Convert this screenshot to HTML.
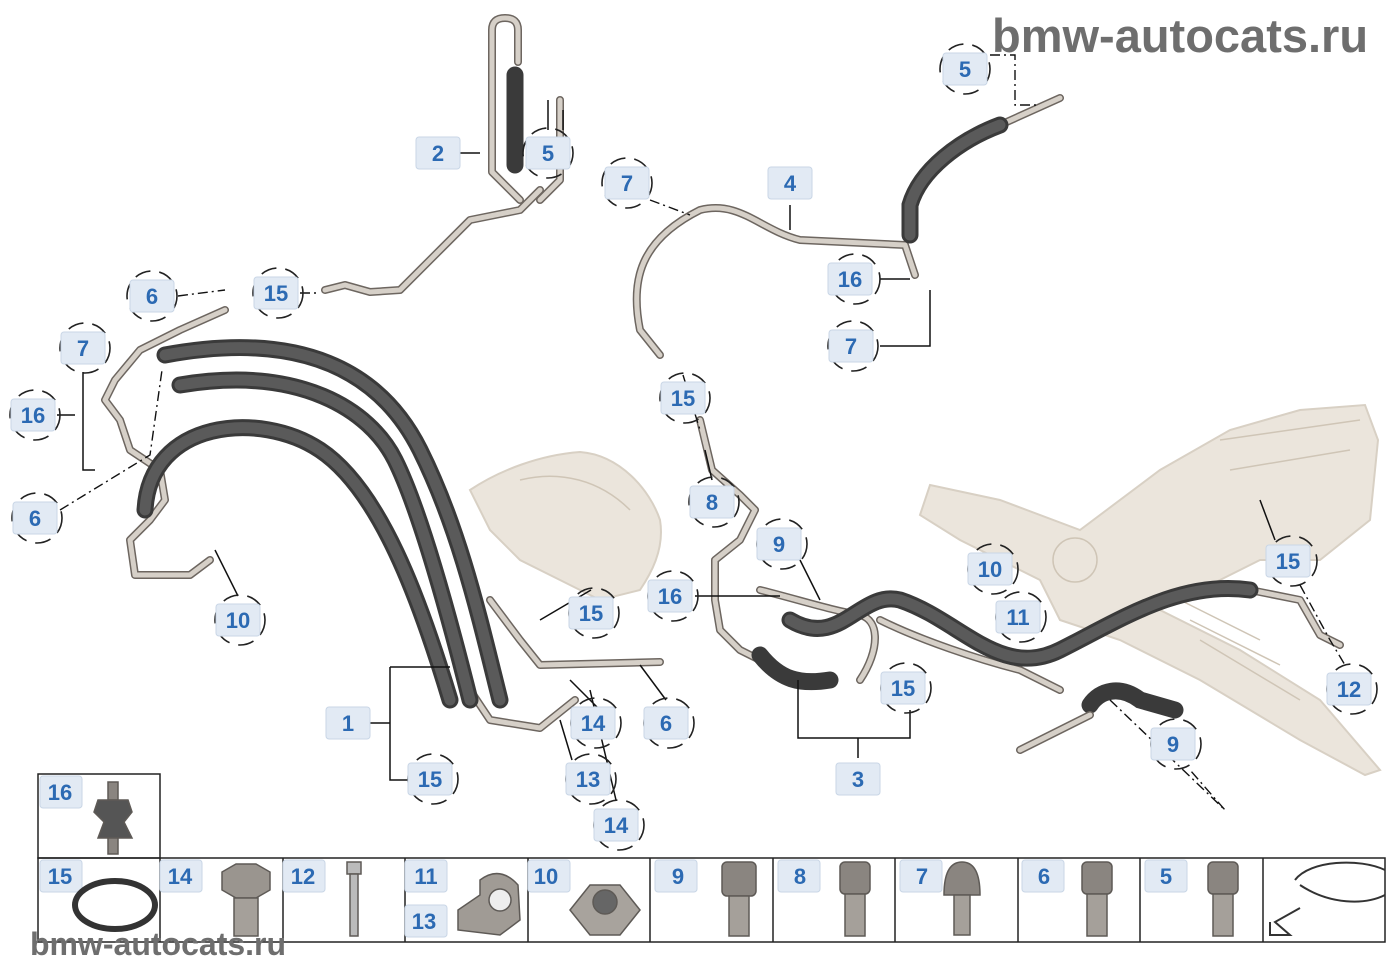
<!DOCTYPE html>
<html><head><meta charset="utf-8"><style>
html,body{margin:0;padding:0;background:#fff}
svg{display:block}
.lb rect{fill:#e2eaf4;stroke:#c9d6e6;stroke-width:1}
.lb text{font-family:"Liberation Sans",sans-serif;font-weight:bold;font-size:22px;fill:#2c6ab3;text-anchor:middle}
.ci{fill:none;stroke:#222;stroke-width:1.6;stroke-dasharray:16 9}
.hose{fill:none;stroke:#3a3a3a;stroke-width:17;stroke-linecap:round}
.hosei{fill:none;stroke:#5a5a5a;stroke-width:11;stroke-linecap:round}
.pipe{fill:none;stroke:#6d6660;stroke-width:8;stroke-linecap:round;stroke-linejoin:round}
.pipei{fill:none;stroke:#d6d0c8;stroke-width:5;stroke-linecap:round;stroke-linejoin:round}
.ld{fill:none;stroke:#111;stroke-width:1.5}
.dd{fill:none;stroke:#111;stroke-width:1.4;stroke-dasharray:10 4 2 4}
.cell{fill:none;stroke:#222;stroke-width:1.5}
.wm{font-family:"Liberation Sans",sans-serif;font-weight:bold;fill:#6e6e6e}
</style></head><body>
<svg width="1400" height="980" viewBox="0 0 1400 980" xmlns="http://www.w3.org/2000/svg">
<text class="wm" x="992" y="52" font-size="47">bmw-autocats.ru</text>

<g fill="#ebe5dc" stroke="#d8d0c4" stroke-width="2">
<path d="M470,490 C500,470 540,455 580,452 C620,455 650,490 660,520 C665,550 650,575 640,590 L600,600 L560,580 L520,560 L490,530 Z"/>
<path d="M930,485 L1000,500 L1080,530 L1160,470 L1230,430 L1300,410 L1365,405 L1378,440 L1370,520 L1320,560 L1260,560 L1200,590 L1160,610 L1240,650 L1320,700 L1380,770 L1365,775 L1300,740 L1200,680 L1120,640 L1060,620 L1040,580 L1000,560 L960,540 L920,515 Z"/>
</g>
<g fill="none" stroke="#cfc5b6" stroke-width="1.5">
<circle cx="1075" cy="560" r="22"/><path d="M1180,600 L1260,640 M1190,620 L1280,665 M1200,640 L1300,700"/>
<path d="M1220,440 L1360,420 M1230,470 L1350,450"/>
<path d="M520,480 C560,470 600,480 630,510"/>
</g>

<g>
<path class="pipe" d="M520,200 L492,172 L492,30 Q492,18 505,18 Q518,18 518,30 L518,62"/>
<path class="pipei" d="M520,200 L492,172 L492,30 Q492,18 505,18 Q518,18 518,30 L518,62"/>
<path class="pipe" d="M540,190 L520,210 L470,220 L440,250 L400,290 L370,292 L345,285 L325,290"/>
<path class="pipei" d="M540,190 L520,210 L470,220 L440,250 L400,290 L370,292 L345,285 L325,290"/>
<path class="pipe" d="M560,100 L560,180 L540,200"/>
<path class="pipei" d="M560,100 L560,180 L540,200"/>
<path class="pipe" d="M660,355 L640,330 C630,280 640,240 700,210 C740,200 760,230 800,240 L905,245 L915,275"/>
<path class="pipei" d="M660,355 L640,330 C630,280 640,240 700,210 C740,200 760,230 800,240 L905,245 L915,275"/>
<path class="pipe" d="M700,420 L712,470 L740,495 L755,510 L740,540 L715,560 L715,600 L720,630 L740,650 L760,660"/>
<path class="pipei" d="M700,420 L712,470 L740,495 L755,510 L740,540 L715,560 L715,600 L720,630 L740,650 L760,660"/>
<path class="pipe" d="M760,590 C800,600 830,610 860,615 C880,620 880,650 860,680 M880,620 C920,640 980,660 1020,670 L1060,690"/>
<path class="pipei" d="M760,590 C800,600 830,610 860,615 C880,620 880,650 860,680 M880,620 C920,640 980,660 1020,670 L1060,690"/>
<path class="pipe" d="M225,310 L180,330 L140,350 L115,380 L105,400 L120,420 L130,450 L160,470 L165,500 L150,520 L130,540 L135,575 L190,575 L210,560"/>
<path class="pipei" d="M225,310 L180,330 L140,350 L115,380 L105,400 L120,420 L130,450 L160,470 L165,500 L150,520 L130,540 L135,575 L190,575 L210,560"/>
<path class="pipe" d="M490,600 L520,640 L540,665 L660,662"/>
<path class="pipei" d="M490,600 L520,640 L540,665 L660,662"/>
<path class="pipe" d="M470,690 L490,720 L540,728 L575,700"/>
<path class="pipei" d="M470,690 L490,720 L540,728 L575,700"/>
<path class="pipe" d="M1250,590 L1300,600 L1320,635 L1340,645"/>
<path class="pipei" d="M1250,590 L1300,600 L1320,635 L1340,645"/>
<path class="pipe" d="M1000,125 L1060,98"/>
<path class="pipei" d="M1000,125 L1060,98"/>
</g>

<g>
<path class="hose" d="M165,355 C300,330 380,370 420,450 S480,620 500,700"/>
<path class="hosei" d="M165,355 C300,330 380,370 420,450 S480,620 500,700"/>
<path class="hose" d="M180,385 C300,365 370,410 395,460 S450,620 470,700"/>
<path class="hosei" d="M180,385 C300,365 370,410 395,460 S450,620 470,700"/>
<path class="hose" d="M145,510 C150,420 260,410 320,450 S420,600 450,700"/>
<path class="hosei" d="M145,510 C150,420 260,410 320,450 S420,600 450,700"/>
<path class="hose" d="M515,75 L515,165"/>
<path class="hose" d="M910,235 L910,205 C920,170 960,140 1000,125"/>
<path class="hosei" d="M910,235 L910,205 C920,170 960,140 1000,125"/>
<path class="hose" d="M790,620 C840,650 860,590 900,600 C960,620 1000,680 1060,650 C1120,620 1180,580 1250,590"/>
<path class="hosei" d="M790,620 C840,650 860,590 900,600 C960,620 1000,680 1060,650 C1120,620 1180,580 1250,590"/>
<path class="hose" d="M760,655 C780,680 800,685 830,680"/>
<path class="hose" d="M1090,705 C1100,690 1120,685 1140,700 L1175,710"/>
<path class="pipe" d="M1020,750 L1090,715"/>
<path class="pipei" d="M1020,750 L1090,715"/>
</g>

<g>
<path class="ld" d="M460,153 L480,153"/>
<path class="ld" d="M790,205 L790,230"/>
<path class="ld" d="M390,667 L450,667 M390,667 L390,780 L410,780 M370,723 L390,723"/>
<path class="ld" d="M798,680 L798,738 L910,738 L910,710 M858,738 L858,758"/>
<path class="ld" d="M548,130 L548,100 M563,130 L563,110"/>
<path class="ld" d="M880,279 L910,279 M880,346 L930,346 L930,290"/>
<path class="dd" d="M990,55 L1015,55 L1015,105 L1040,105"/>
<path class="dd" d="M650,200 L690,215"/>
<path class="dd" d="M178,296 L225,290 M300,293 L320,293"/>
<path class="ld" d="M83,372 L83,470 L95,470 M57,415 L75,415"/>
<path class="dd" d="M60,510 L150,455 L162,370"/>
<path class="ld" d="M238,596 L215,550"/>
<path class="dd" d="M683,375 L700,430"/>
<path class="ld" d="M712,480 L705,450"/>
<path class="ld" d="M695,596 L780,596 M800,560 L820,600"/>
<path class="ld" d="M591,590 L540,620 M600,710 L570,680 M572,760 L560,720 M616,800 L590,690"/>
<path class="ld" d="M666,700 L640,665"/>
<path class="ld" d="M1275,540 L1260,500"/>
<path class="dd" d="M1300,585 L1330,640 L1345,665"/>
<path class="dd" d="M1110,700 L1225,810 L1190,770"/>
</g>

<g>
<circle class="ci" cx="965" cy="69" r="25"/><circle class="ci" cx="548" cy="153" r="25"/>
<circle class="ci" cx="627" cy="183" r="25"/><circle class="ci" cx="855" cy="279" r="25"/>
<circle class="ci" cx="853" cy="346" r="25"/><circle class="ci" cx="152" cy="296" r="25"/>
<circle class="ci" cx="278" cy="293" r="25"/><circle class="ci" cx="85" cy="348" r="25"/>
<circle class="ci" cx="35" cy="415" r="25"/><circle class="ci" cx="37" cy="518" r="25"/>
<circle class="ci" cx="240" cy="620" r="25"/><circle class="ci" cx="685" cy="398" r="25"/>
<circle class="ci" cx="714" cy="502" r="25"/><circle class="ci" cx="782" cy="544" r="25"/>
<circle class="ci" cx="673" cy="596" r="25"/><circle class="ci" cx="594" cy="613" r="25"/>
<circle class="ci" cx="993" cy="569" r="25"/><circle class="ci" cx="1021" cy="617" r="25"/>
<circle class="ci" cx="1292" cy="561" r="25"/><circle class="ci" cx="1352" cy="689" r="25"/>
<circle class="ci" cx="906" cy="688" r="25"/><circle class="ci" cx="1176" cy="744" r="25"/>
<circle class="ci" cx="596" cy="723" r="25"/><circle class="ci" cx="669" cy="723" r="25"/>
<circle class="ci" cx="591" cy="779" r="25"/><circle class="ci" cx="619" cy="825" r="25"/>
<circle class="ci" cx="433" cy="779" r="25"/>
</g>

<g class="lb">
<rect x="943" y="53" width="44" height="32" rx="3"/><text x="965" y="77">5</text>
<rect x="526" y="137" width="44" height="32" rx="3"/><text x="548" y="161">5</text>
<rect x="605" y="167" width="44" height="32" rx="3"/><text x="627" y="191">7</text>
<rect x="828" y="263" width="44" height="32" rx="3"/><text x="850" y="287">16</text>
<rect x="829" y="330" width="44" height="32" rx="3"/><text x="851" y="354">7</text>
<rect x="130" y="280" width="44" height="32" rx="3"/><text x="152" y="304">6</text>
<rect x="254" y="277" width="44" height="32" rx="3"/><text x="276" y="301">15</text>
<rect x="61" y="332" width="44" height="32" rx="3"/><text x="83" y="356">7</text>
<rect x="11" y="399" width="44" height="32" rx="3"/><text x="33" y="423">16</text>
<rect x="13" y="502" width="44" height="32" rx="3"/><text x="35" y="526">6</text>
<rect x="216" y="604" width="44" height="32" rx="3"/><text x="238" y="628">10</text>
<rect x="661" y="382" width="44" height="32" rx="3"/><text x="683" y="406">15</text>
<rect x="690" y="486" width="44" height="32" rx="3"/><text x="712" y="510">8</text>
<rect x="757" y="528" width="44" height="32" rx="3"/><text x="779" y="552">9</text>
<rect x="648" y="580" width="44" height="32" rx="3"/><text x="670" y="604">16</text>
<rect x="569" y="597" width="44" height="32" rx="3"/><text x="591" y="621">15</text>
<rect x="968" y="553" width="44" height="32" rx="3"/><text x="990" y="577">10</text>
<rect x="996" y="601" width="44" height="32" rx="3"/><text x="1018" y="625">11</text>
<rect x="1266" y="545" width="44" height="32" rx="3"/><text x="1288" y="569">15</text>
<rect x="1327" y="673" width="44" height="32" rx="3"/><text x="1349" y="697">12</text>
<rect x="881" y="672" width="44" height="32" rx="3"/><text x="903" y="696">15</text>
<rect x="1151" y="728" width="44" height="32" rx="3"/><text x="1173" y="752">9</text>
<rect x="571" y="707" width="44" height="32" rx="3"/><text x="593" y="731">14</text>
<rect x="644" y="707" width="44" height="32" rx="3"/><text x="666" y="731">6</text>
<rect x="566" y="763" width="44" height="32" rx="3"/><text x="588" y="787">13</text>
<rect x="594" y="809" width="44" height="32" rx="3"/><text x="616" y="833">14</text>
<rect x="408" y="763" width="44" height="32" rx="3"/><text x="430" y="787">15</text>
<rect x="416" y="137" width="44" height="32" rx="3"/><text x="438" y="161">2</text>
<rect x="768" y="167" width="44" height="32" rx="3"/><text x="790" y="191">4</text>
<rect x="326" y="707" width="44" height="32" rx="3"/><text x="348" y="731">1</text>
<rect x="836" y="763" width="44" height="32" rx="3"/><text x="858" y="787">3</text>
</g>

<g>
<rect class="cell" x="38" y="774" width="122" height="84"/>
<rect class="cell" x="38" y="858" width="1347" height="84"/>
<path class="cell" d="M160,858V942M283,858V942M405,858V942M528,858V942M650,858V942M773,858V942M895,858V942M1018,858V942M1140,858V942M1263,858V942"/>
</g>
<g class="lb">
<rect x="40" y="776" width="42" height="32" rx="3"/><text x="60" y="800">16</text>
<rect x="40" y="860" width="42" height="32" rx="3"/><text x="60" y="884">15</text>
<rect x="160" y="860" width="42" height="32" rx="3"/><text x="180" y="884">14</text>
<rect x="283" y="860" width="42" height="32" rx="3"/><text x="303" y="884">12</text>
<rect x="405" y="860" width="42" height="32" rx="3"/><text x="426" y="884">11</text>
<rect x="405" y="905" width="42" height="32" rx="3"/><text x="424" y="929">13</text>
<rect x="528" y="860" width="42" height="32" rx="3"/><text x="546" y="884">10</text>
<rect x="655" y="860" width="42" height="32" rx="3"/><text x="678" y="884">9</text>
<rect x="778" y="860" width="42" height="32" rx="3"/><text x="800" y="884">8</text>
<rect x="900" y="860" width="42" height="32" rx="3"/><text x="922" y="884">7</text>
<rect x="1022" y="860" width="42" height="32" rx="3"/><text x="1044" y="884">6</text>
<rect x="1145" y="860" width="42" height="32" rx="3"/><text x="1166" y="884">5</text>
</g>
<g fill="#8a8580" stroke="#5e5a56" stroke-width="1.5">
<rect x="108" y="782" width="10" height="18"/><path d="M98,800 L128,800 L132,812 L124,822 L132,838 L98,838 L104,822 L94,812 Z" fill="#555"/><rect x="108" y="838" width="10" height="16"/>
<ellipse cx="115" cy="905" rx="40" ry="24" fill="none" stroke="#333" stroke-width="6"/>
<path d="M222,872 L236,864 L256,864 L270,872 L270,890 L256,898 L236,898 L222,890 Z" fill="#9a958f"/><rect x="234" y="898" width="24" height="38" fill="#a5a09a"/>
<rect x="347" y="862" width="14" height="12" fill="#bbb"/><rect x="350" y="874" width="8" height="62" fill="#bbb"/>
<path d="M458,930 L458,910 L480,895 L480,880 Q500,865 518,885 L520,920 L500,935 Z" fill="#a09b95"/><circle cx="500" cy="900" r="11" fill="#eee"/>
<path d="M570,910 L590,885 L620,885 L640,910 L620,935 L590,935 Z" fill="#a8a39d"/><circle cx="605" cy="902" r="12" fill="#666"/>
<rect x="722" y="862" width="34" height="34" rx="5"/><rect x="729" y="896" width="20" height="40" fill="#a5a09a"/>
<rect x="840" y="862" width="30" height="32" rx="5"/><rect x="845" y="894" width="20" height="42" fill="#a5a09a"/>
<path d="M944,895 Q944,862 962,862 Q980,862 980,895 Z"/><rect x="954" y="895" width="16" height="40" fill="#a5a09a"/>
<rect x="1082" y="862" width="30" height="32" rx="5"/><rect x="1087" y="894" width="20" height="42" fill="#a5a09a"/>
<rect x="1208" y="862" width="30" height="32" rx="5"/><rect x="1213" y="894" width="20" height="42" fill="#a5a09a"/>
</g>
<g fill="none" stroke="#333" stroke-width="2">
<path d="M1295,880 C1310,860 1360,858 1385,870 M1300,885 C1330,905 1365,905 1385,895"/>
<path d="M1300,908 L1275,922 L1290,935 L1270,935 L1270,922"/>
</g>
<text class="wm" x="30" y="955" font-size="32">bmw-autocats.ru</text>
</svg>
</body></html>
